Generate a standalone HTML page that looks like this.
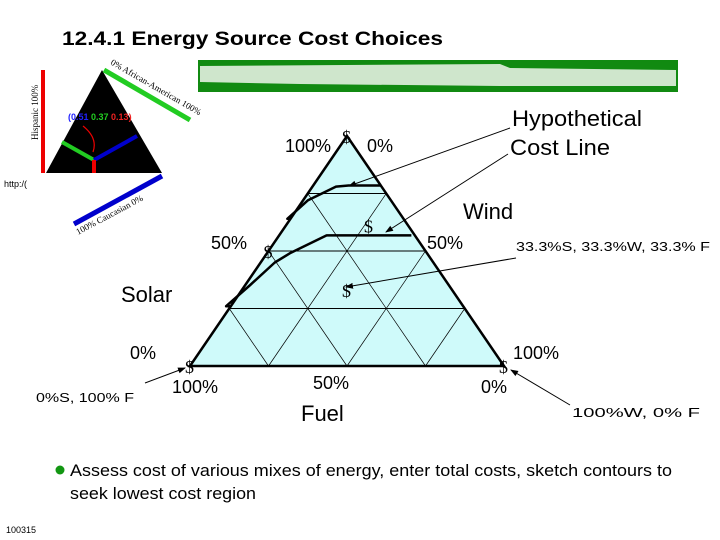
<!DOCTYPE html>
<html><head><meta charset="utf-8"><style>
html,body{margin:0;padding:0;background:#fff}
svg{display:block;font-family:"Liberation Sans",sans-serif}
</style></head><body>
<svg id="s" width="720" height="540" viewBox="0 0 720 540" xmlns="http://www.w3.org/2000/svg">
<defs><marker id="ah" markerWidth="8" markerHeight="8" refX="7" refY="4" orient="auto"><path d="M0,1 L8,4 L0,7 Z" fill="#000"/></marker></defs>
<text x="62" y="45" font-size="19" font-weight="bold" textLength="381" lengthAdjust="spacingAndGlyphs">12.4.1 Energy Source Cost Choices</text>
<g>
<rect x="198" y="60" width="480" height="32" fill="#118a11"/>
<path d="M200,66 L500,64 L510,68 L676,70 L676,86 L500,86 L300,84 L200,82 Z" fill="#cfe6cc"/>
</g>
<g>
<polygon points="102,70 46,173 162,173" fill="#000"/>
<line x1="43" y1="70" x2="43" y2="173" stroke="#e00" stroke-width="4"/>
<text x="38" y="140" font-size="9" font-family="Liberation Serif,serif" transform="rotate(-90 38 140)">Hispanic   100%</text>
<line x1="104" y1="70" x2="190" y2="120" stroke="#2c2" stroke-width="5"/>
<text x="110" y="64" font-size="9" font-family="Liberation Serif,serif" transform="rotate(30 110 64)">0%  African-American  100%</text>
<line x1="162" y1="176" x2="74" y2="224" stroke="#00c" stroke-width="5"/>
<text x="78" y="235" font-size="9" font-family="Liberation Serif,serif" transform="rotate(-28 78 235)">100%  Caucasian  0%</text>
<line x1="62" y1="142" x2="94" y2="160" stroke="#2c2" stroke-width="4"/>
<line x1="94" y1="160" x2="137" y2="136" stroke="#00c" stroke-width="4"/>
<line x1="94" y1="160" x2="94" y2="173" stroke="#e00" stroke-width="4"/>
<path d="M83,126 Q98,138 93,152" fill="none" stroke="#e00" stroke-width="1.2"/>
<text x="68" y="120" font-size="9" font-weight="bold"><tspan fill="#22f">(0.51</tspan><tspan fill="#2c2"> 0.37</tspan><tspan fill="#e22"> 0.13)</tspan></text>
<text x="4" y="187" font-size="9">http:/(</text>
</g>
<g id="tri"></g>
<text x="285" y="152" font-size="18">100%</text>
<text x="367" y="152" font-size="18">0%</text>
<text x="211" y="249" font-size="18">50%</text>
<text x="427" y="249" font-size="18">50%</text>
<text x="130" y="359" font-size="18">0%</text>
<text x="172" y="393" font-size="18">100%</text>
<text x="313" y="389" font-size="18">50%</text>
<text x="481" y="393" font-size="18">0%</text>
<text x="513" y="359" font-size="18">100%</text>
<text x="121" y="302" font-size="22">Solar</text>
<text x="301" y="421" font-size="22">Fuel</text>
<text x="463" y="219" font-size="22">Wind</text>
<text x="512" y="126" font-size="22" textLength="130" lengthAdjust="spacingAndGlyphs">Hypothetical</text>
<text x="510" y="155" font-size="22" textLength="100" lengthAdjust="spacingAndGlyphs">Cost Line</text>
<text x="516" y="251" font-size="13" textLength="194" lengthAdjust="spacingAndGlyphs">33.3%S, 33.3%W, 33.3% F</text>
<text x="36" y="402" font-size="13" textLength="98" lengthAdjust="spacingAndGlyphs">0%S, 100% F</text>
<text x="572" y="417" font-size="13" textLength="128" lengthAdjust="spacingAndGlyphs">100%W, 0% F</text>
<line x1="510" y1="128" x2="349" y2="186" stroke="#000" stroke-width="1" marker-end="url(#ah)"/>
<line x1="508" y1="154" x2="386" y2="232" stroke="#000" stroke-width="1" marker-end="url(#ah)"/>
<line x1="516" y1="258" x2="346" y2="287" stroke="#000" stroke-width="1" marker-end="url(#ah)"/>
<line x1="145" y1="383" x2="185" y2="368" stroke="#000" stroke-width="1" marker-end="url(#ah)"/>
<line x1="570" y1="405" x2="511" y2="370" stroke="#000" stroke-width="1" marker-end="url(#ah)"/>
<circle cx="60" cy="470" r="4.5" fill="#129612"/>
<text x="70" y="476" font-size="17" textLength="602" lengthAdjust="spacingAndGlyphs">Assess cost of various mixes of energy, enter total costs, sketch contours to</text>
<text x="70" y="499" font-size="17" textLength="186" lengthAdjust="spacingAndGlyphs">seek lowest cost region</text>
<text x="6" y="533" font-size="9">100315</text>
</svg>
<script>
const gridFractions = [0.25, 0.5, 0.75];
const contourUpperW = [0.64, 0.72, 0.78, 0.785, 0.785];
const contourUpperX = [0.31, 0.375, 0.465, 0.505, 0.607];
const contourLowerW = [0.26, 0.35, 0.45, 0.49, 0.568, 0.568];
const contourLowerX = [0.115, 0.19, 0.27, 0.318, 0.435, 0.705];
const dollarW = [1, 0.61, 0.5, 0.33, 0, 0];
const dollarX = [0.5, 0.57, 0.25, 0.5, 0, 1];
const L = 190, R = 504, B = 366, T = 136;
function px(xf){ return L + (R - L) * xf; }
function py(w){ return B - (B - T) * w; }
function rowX(w, u){ return px(w/2 + u*(1-w)); }
const g = document.getElementById('tri');
const NS = 'http://www.w3.org/2000/svg';
function mk(t, a){ const e = document.createElementNS(NS, t); for (const k in a) e.setAttribute(k, a[k]); g.appendChild(e); return e; }
let e = mk('polygon', {points: `${px(0)},${py(0)} ${px(1)},${py(0)} ${px(0.5)},${py(1)}`, fill:'#cffafa', stroke:'none'});


gridFractions.forEach(f => {
  let a = mk('line', {x1: rowX(f,0), y1: py(f), x2: rowX(f,1), y2: py(f), stroke:'#000', 'stroke-width':1});
  
  
  let b = mk('line', {x1: px(f), y1: py(0), x2: px(f/2), y2: py(f), stroke:'#000', 'stroke-width':0.7});
  
  
  let c = mk('line', {x1: px(f), y1: py(0), x2: px((1+f)/2), y2: py(1-f), stroke:'#000', 'stroke-width':0.7});
  
  
});
e = mk('polygon', {points: `${px(0)},${py(0)} ${px(1)},${py(0)} ${px(0.5)},${py(1)}`, fill:'none', stroke:'#000', 'stroke-width':2.5});


function contour(W, X, name){
  const pts = [[px(W[0]/2), py(W[0])]].concat(W.map((w,i)=>[px(X[i]), py(w)]));
  const p = mk('polyline', {points: pts.map(p=>p.join(',')).join(' '), fill:'none', stroke:'#000', 'stroke-width':2.5, 'stroke-linejoin':'round'});
  
  
}
contour(contourUpperW, contourUpperX, 'cost-contour-upper');
contour(contourLowerW, contourLowerX, 'cost-contour-lower');
dollarW.forEach((w,i)=>{
  const t = mk('text', {x: px(dollarX[i]) - 5, y: py(w) + 7, 'font-size': 18, 'font-family':'Liberation Serif,serif'});
  t.textContent = '$';
  
  
});
</script>
</body></html>
